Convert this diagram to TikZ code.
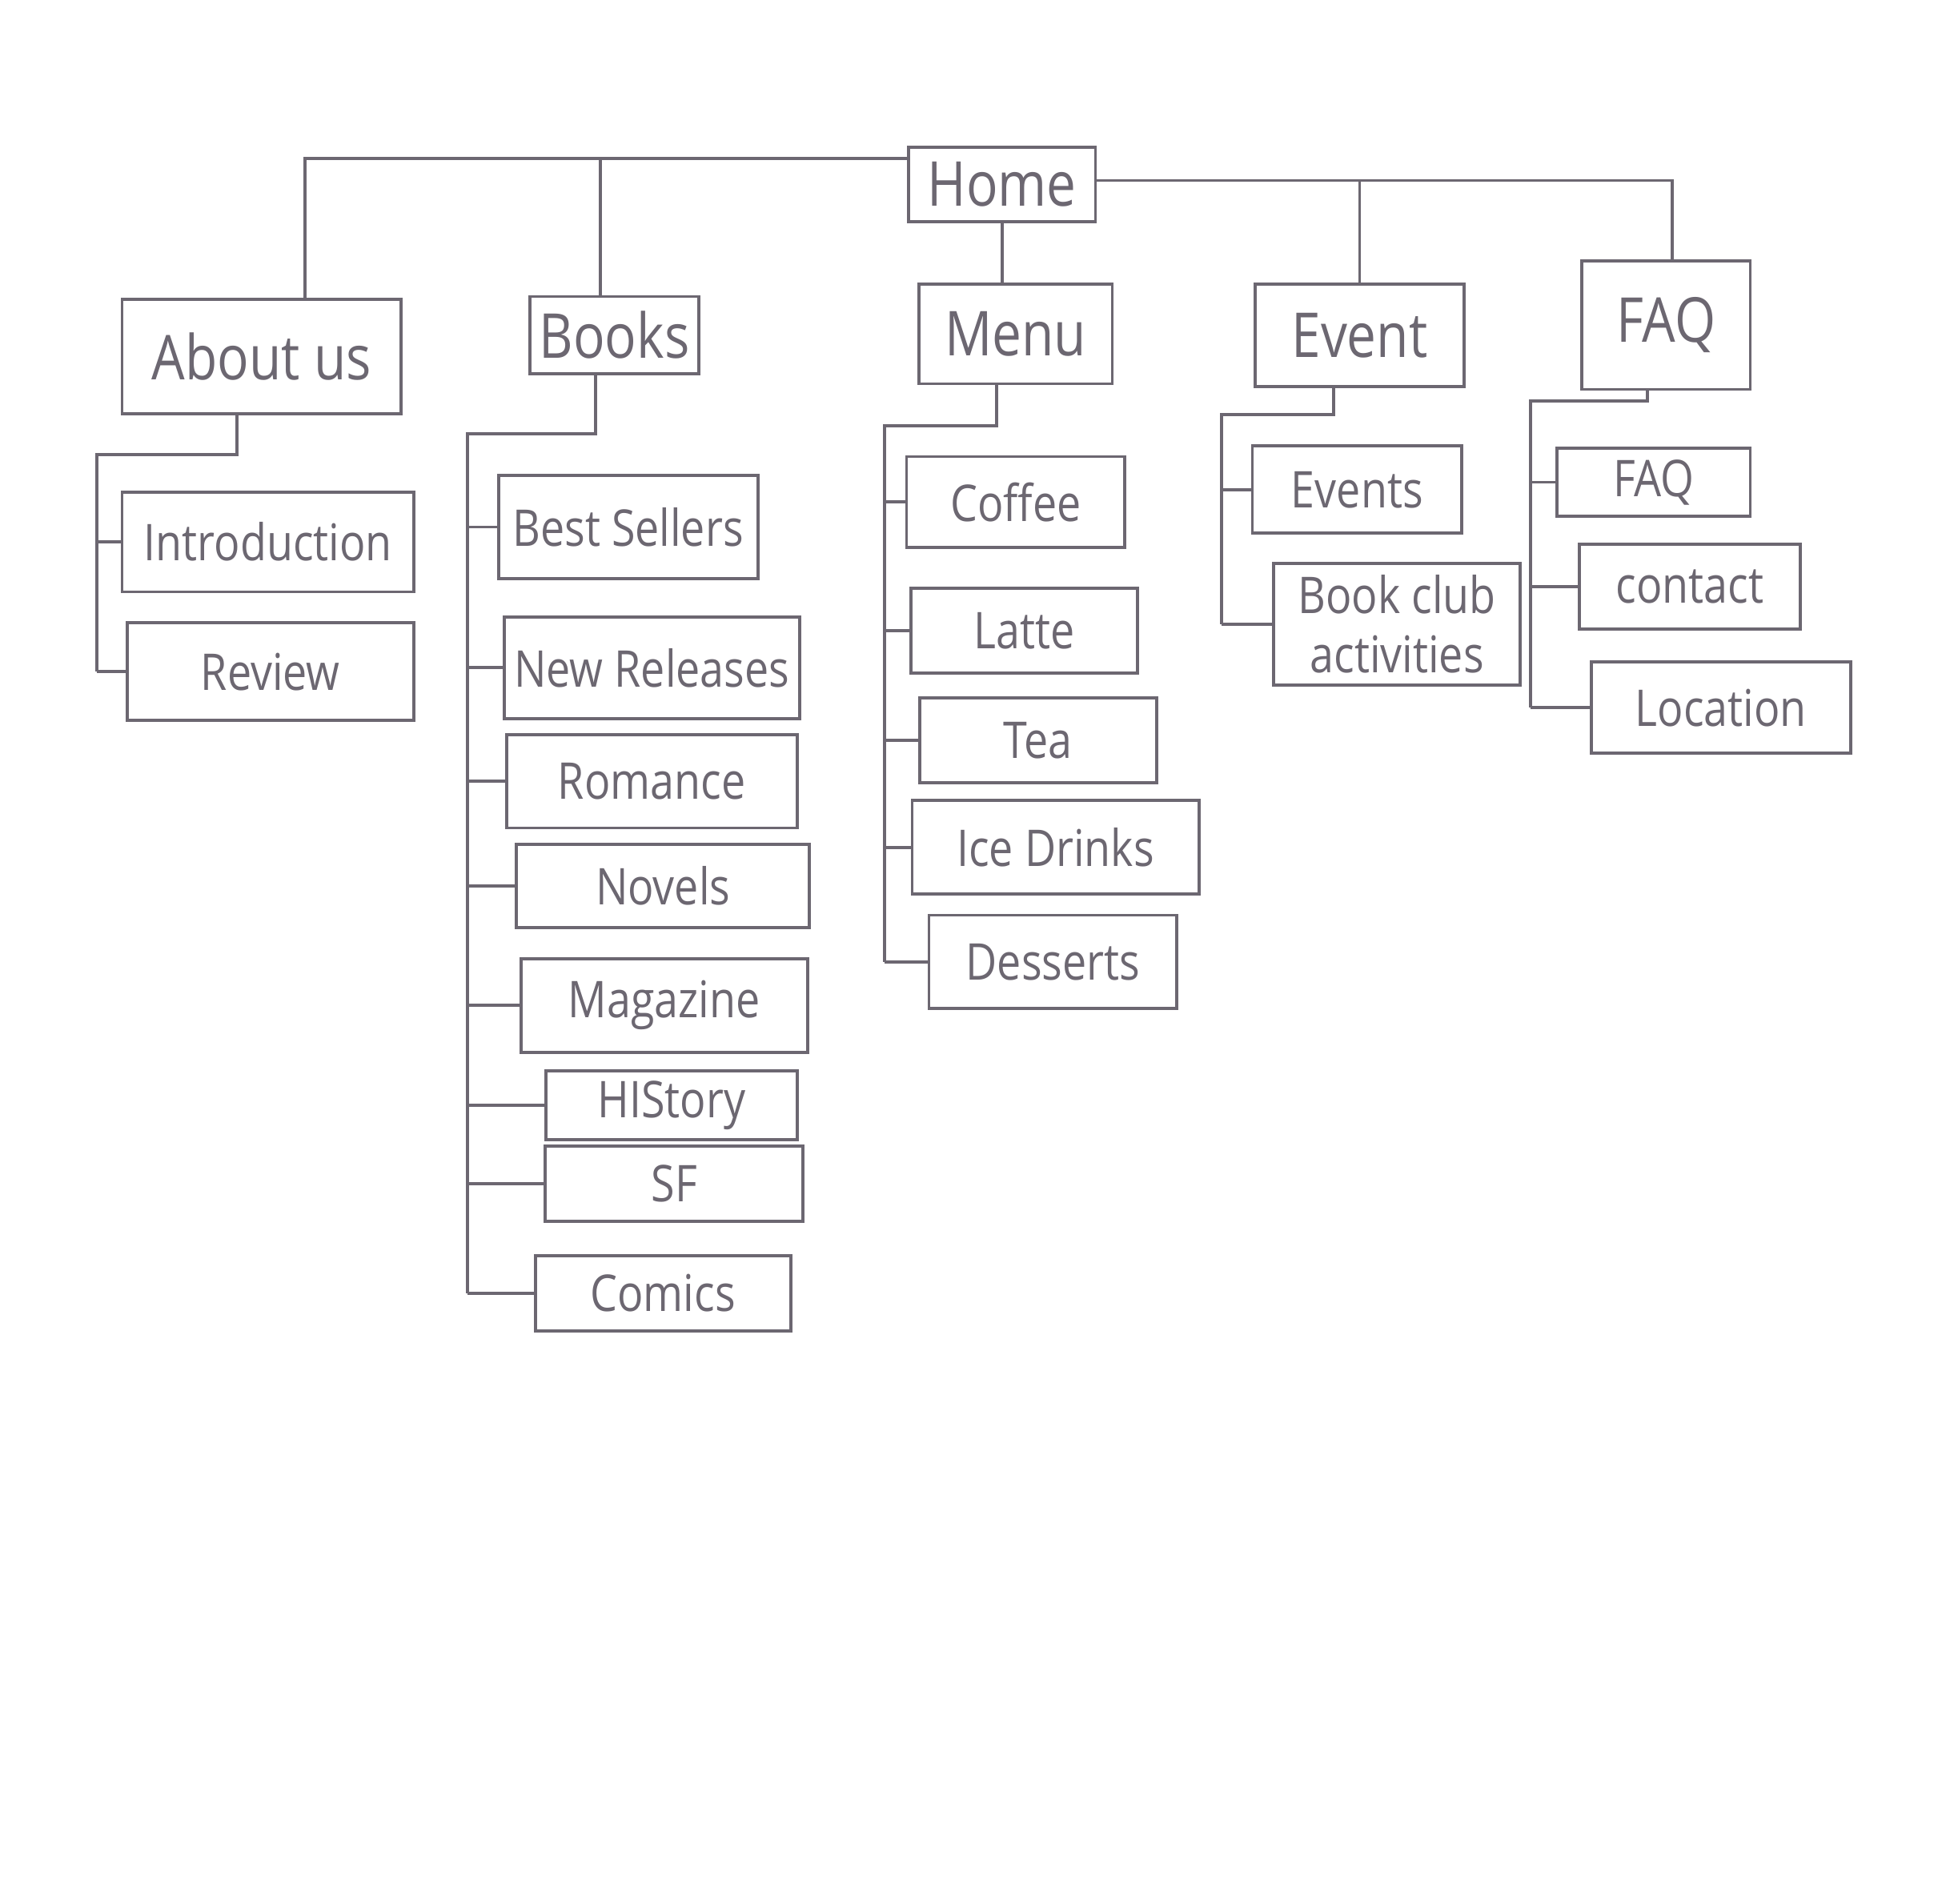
\documentclass[tikz,border=0pt]{standalone}
\usepackage{fontspec}
\setmainfont[FakeStretch=0.85]{Open Sans}
\usetikzlibrary{calc}
\definecolor{pencil}{RGB}{108,103,113}
\def\pxu{0.15568mm}
\begin{document}
\begin{tikzpicture}[x=0.015568cm,y=-0.015568cm,
  wire/.style={draw=pencil,line width=1.1pt},
  bx/.style 2 args={draw=pencil,line width=1.1pt,rectangle,inner sep=0pt,
    minimum width=#1*\pxu,minimum height=#2*\pxu,text=pencil,
    font=\fontsize{18}{21}\selectfont},
  top/.style={font=\fontsize{22}{26}\selectfont}]
\fill[white] (0,0) rectangle (1568,1528);
\useasboundingbox (0,0) rectangle (1568,1528);

% root and first level
\node[bx={150}{60},top] (home) at (804,148) {Home};
\node[bx={224}{92},top] (about) at (210,286) {About us};
\node[bx={135}{62},top] (books) at (493,269) {Books};
\node[bx={155}{80},top] (menu) at (815,268) {Menu};
\node[bx={168}{82},top] (event) at (1091,269) {Event};
\node[bx={135}{103},top] (faq) at (1337,261) {FAQ};

% About us
\node[bx={234}{80}] (intro) at (215,435) {Introduction};
\node[bx={230}{78}] (review) at (217,539) {Review};

% Books
\node[bx={208}{83}] (best) at (504,423) {Best Sellers};
\node[bx={237}{82}] (newrel) at (523,536) {New Releases};
\node[bx={233}{75}] (romance) at (523,627) {Romance};
\node[bx={235}{67}] (novels) at (532,711) {Novels};
\node[bx={230}{75}] (magazine) at (533,807) {Magazine};
\node[bx={202}{55}] (history) at (539,887) {HIStory};
\node[bx={207}{60}] (sf) at (541,950) {SF};
\node[bx={205}{60}] (comics) at (532,1038) {Comics};

% Menu
\node[bx={175}{73}] (coffee) at (815,403) {Coffee};
\node[bx={182}{68}] (latte) at (822,506) {Latte};
\node[bx={190}{68}] (tea) at (833,594) {Tea};
\node[bx={230}{75}] (ice) at (847,680) {Ice Drinks};
\node[bx={199}{75}] (desserts) at (845,772) {Desserts};

% Event
\node[bx={168}{70}] (events) at (1089,393) {Events};
\node[bx={198}{98},align=center] (bookclub) at (1121,501) {Book club\\activities};

% FAQ
\node[bx={155}{55}] (faqs) at (1327,387) {FAQ};
\node[bx={177}{68}] (contact) at (1356,471) {contact};
\node[bx={208}{73}] (location) at (1381,568) {Location};

% links from the root
\coordinate (hl) at ($(home.north west)!0.17!(home.south west)$);
\coordinate (hr) at ($(home.north east)!0.45!(home.south east)$);
\draw[wire] (hl) -| ($(about.north)+(35,0)$);
\draw[wire] (hl -| 482,0) -- ($(books.north)+(-11,0)$);
\draw[wire] (hr) -| ($(faq.north)+(5,0)$);
\draw[wire] (hr -| event.north) -- (event.north);
\draw[wire] (home.south) -- (home.south |- menu.north);

% About us branch
\coordinate (sa) at (78,365);
\draw[wire] ($(about.south)+(-20,0)$) |- (sa) -- (sa |- review.west);
\foreach \c in {intro,review} \draw[wire] (sa |- \c.west) -- (\c.west);

% Books branch
\coordinate (sb) at (375,348);
\draw[wire] ($(books.south)+(-15,0)$) |- (sb) -- (sb |- comics.west);
\foreach \c in {best,newrel,romance,novels,magazine,history,sf,comics}
  \draw[wire] (sb |- \c.west) -- (\c.west);

% Menu branch
\coordinate (sm) at (710,342);
\draw[wire] ($(menu.south)+(-15,0)$) |- (sm) -- (sm |- desserts.west);
\foreach \c in {coffee,latte,tea,ice,desserts}
  \draw[wire] (sm |- \c.west) -- (\c.west);

% Event branch
\coordinate (se) at (980,333);
\draw[wire] ($(event.south)+(-21,0)$) |- (se) -- (se |- bookclub.west);
\foreach \c in {events,bookclub} \draw[wire] (se |- \c.west) -- (\c.west);

% FAQ branch
\coordinate (sf) at (1228,322);
\draw[wire] ($(faq.south)+(-15,0)$) |- (sf) -- (sf |- location.west);
\foreach \c in {faqs,contact,location} \draw[wire] (sf |- \c.west) -- (\c.west);
\end{tikzpicture}
\end{document}
